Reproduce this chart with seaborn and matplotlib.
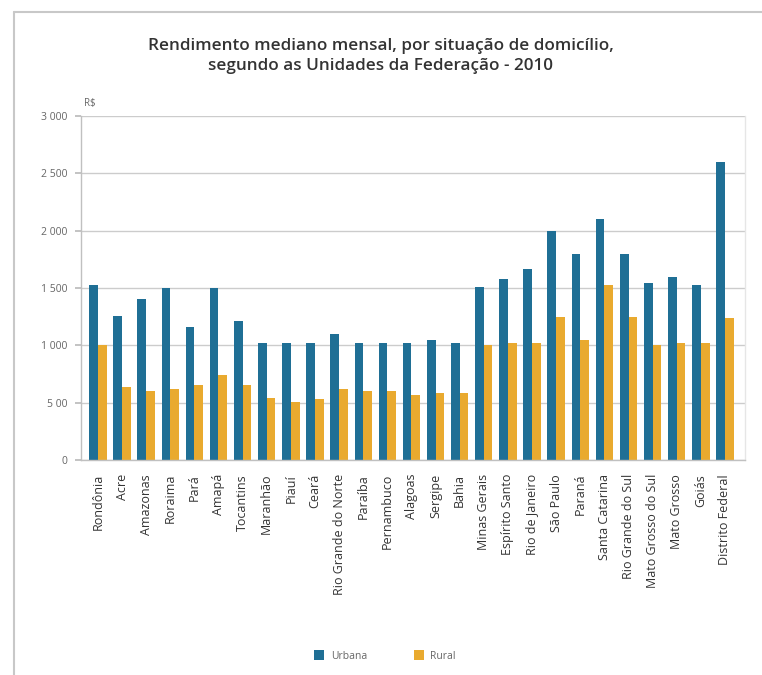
import matplotlib
matplotlib.use("Agg")
import matplotlib.pyplot as plt
import seaborn as sns
import pandas as pd
from matplotlib.lines import Line2D
from matplotlib.patches import Patch

states = ["Rondônia", "Acre", "Amazonas", "Roraima", "Pará", "Amapá", "Tocantins",
          "Maranhão", "Piauí", "Ceará", "Rio Grande do Norte", "Paraíba", "Pernambuco",
          "Alagoas", "Sergipe", "Bahia", "Minas Gerais", "Espírito Santo",
          "Rio de Janeiro", "São Paulo", "Paraná", "Santa Catarina",
          "Rio Grande do Sul", "Mato Grosso do Sul", "Mato Grosso", "Goiás",
          "Distrito Federal"]
urbana = [1530, 1260, 1400, 1500, 1160, 1500, 1210, 1020, 1020, 1020, 1100, 1020, 1020,
          1020, 1050, 1020, 1510, 1580, 1670, 2000, 1800, 2100, 1800, 1540, 1600, 1530,
          2600]
rural = [1000, 640, 600, 620, 650, 740, 650, 545, 510, 530, 620, 600, 600,
         565, 580, 580, 1000, 1020, 1020, 1250, 1050, 1530, 1250, 1000, 1020, 1020,
         1240]
series = ["Urbana", "Rural"]
yticks = [0, 500, 1000, 1500, 2000, 2500, 3000]
ytick_labels = ["0", "5 00", "1 000", "1 500", "2 000", "2 500", "3 000"]

title = "Rendimento mediano mensal, por situação de domicílio,\nsegundo as Unidades da Federação - 2010"

df = pd.DataFrame({
    "UF": states * 2,
    "Situação": [series[0]] * len(states) + [series[1]] * len(states),
    "Valor": urbana + rural,
})

colors = {"Urbana": "#1f6f95", "Rural": "#e9aa2f"}

sns.set_theme(style="white")
plt.rcParams["font.family"] = ["Open Sans", "DejaVu Sans"]

fig = plt.figure(figsize=(7.62, 6.75), dpi=100)
W, H = 762, 675
ax = fig.add_axes([81 / W, 1 - 460 / H, (745 - 81) / W, (460 - 116) / H])

sns.barplot(data=df, x="UF", y="Valor", hue="Situação", palette=colors,
            width=0.72, ax=ax, legend=False, saturation=1, errorbar=None,
            linewidth=0)

ax.set_ylim(0, 3000)
ax.set_xlim(-0.7, 26.83)
ax.set_yticks(yticks)
ax.set_yticklabels(ytick_labels, fontsize=7.5, color="#666666")
ax.set_xticks(range(len(states)))
ax.set_xticklabels(states, rotation=90, fontsize=9, color="#333333")
ax.set_xlabel("")
ax.set_ylabel("")
ax.yaxis.grid(True, color="#cccccc", linewidth=1)
ax.set_axisbelow(True)
ax.tick_params(axis="y", which="both", left=True, length=4, color="#bbbbbb", pad=6)
ax.tick_params(axis="x", bottom=False, pad=4)
for side in ["left", "bottom", "right"]:
    ax.spines[side].set_visible(True)
    ax.spines[side].set_color("#c0c0c0")
    ax.spines[side].set_linewidth(1)
ax.spines["right"].set_color("#e6e6e6")
ax.spines["top"].set_visible(False)

ax.text(0.005, 1.035, "R$", transform=ax.transAxes, fontsize=7, color="#666666",
        ha="left", va="center")

fig.text(381 / W, 1 - 56 / H, title, ha="center", va="center", fontsize=12.3,
         fontweight="semibold", color="#333333", linespacing=1.3)

handles = [Patch(facecolor=colors[s], edgecolor="none") for s in series]
fig.legend(handles, series, loc="center", bbox_to_anchor=(385 / W, 1 - 656 / H),
           ncol=2, frameon=False, fontsize=7.5, handlelength=1.0, handleheight=1.0,
           columnspacing=4.5, handletextpad=0.6, labelcolor="#666666")

fig.add_artist(Line2D([14 / W, 14 / W], [0, 1 - 12 / H], transform=fig.transFigure,
                      color="#c8c8c8", linewidth=1.5))
fig.add_artist(Line2D([14 / W, 1], [1 - 12 / H, 1 - 12 / H], transform=fig.transFigure,
                      color="#c8c8c8", linewidth=1.5))

fig.savefig("out.png", dpi=100, facecolor="white")
